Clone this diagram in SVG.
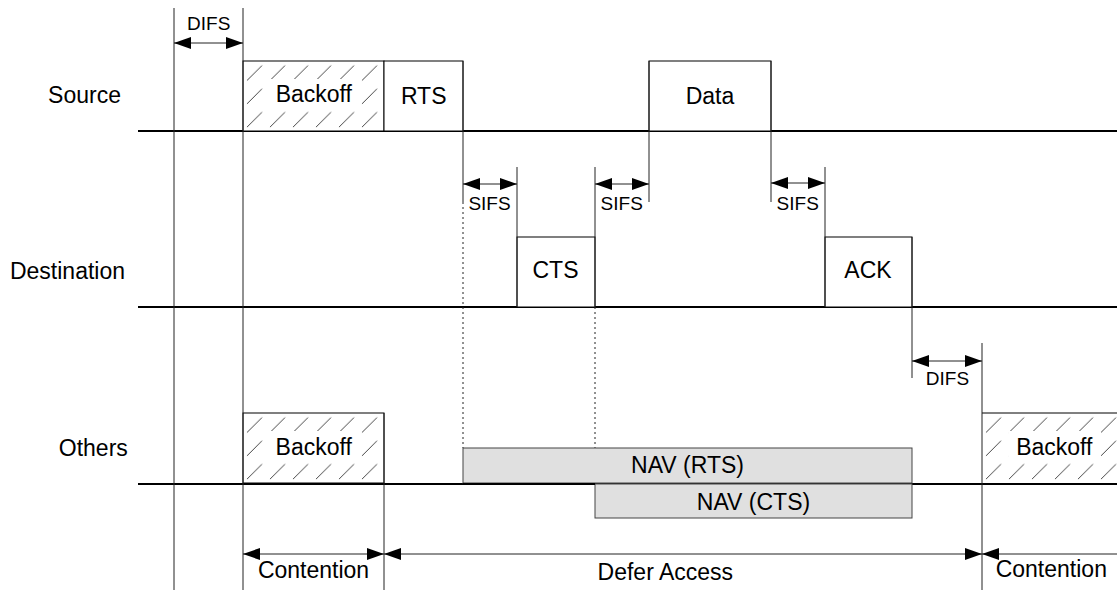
<svg xmlns="http://www.w3.org/2000/svg" width="1117" height="590" viewBox="0 0 1117 590">
  <style>
    text { font-family: "Liberation Sans", Arial, sans-serif; fill: #000; text-anchor: middle; }
    .big { font-size: 23px; }
    .small { font-size: 19px; }
    .axis { stroke: #000; stroke-width: 2; fill: none; }
    .edge { stroke: #222; stroke-width: 1; fill: none; }
    .dot { stroke: #222; stroke-width: 1; stroke-dasharray: 2 3; fill: none; }
    .frame { fill: #fff; stroke: #000; stroke-width: 1; }
    .nav { fill: #e0e0e0; stroke: #444; stroke-width: 1; }
    .span { stroke: #222; stroke-width: 1; fill: none; marker-start: url(#head); marker-end: url(#head); }
  </style>
  <defs>
    <marker id="head" markerUnits="userSpaceOnUse" markerWidth="17" markerHeight="12" refX="17" refY="6" orient="auto-start-reverse">
      <path d="M0,0 L17,6 L0,12 z" fill="#000"/>
    </marker>
    <pattern id="hatch" patternUnits="userSpaceOnUse" width="23" height="23.33">
      <line x1="4" y1="19.5" x2="19" y2="4.5" stroke="#333" stroke-width="0.9"/>
    </pattern>
  </defs>

  <!-- station time axes -->
  <g id="axes">
    <line class="axis" x1="138" y1="131" x2="1117" y2="131"/>
    <line class="axis" x1="138" y1="307" x2="1117" y2="307"/>
    <line class="axis" x1="138" y1="484" x2="1117" y2="484"/>
  </g>

  <!-- row labels -->
  <g id="labels">
    <text class="big" x="84.5" y="103">Source</text>
    <text class="big" x="67.5" y="279">Destination</text>
    <text class="big" x="93.3" y="456">Others</text>
  </g>

  <!-- frames -->
  <g id="source-backoff">
    <g transform="translate(243,61)">
      <rect width="141" height="70" fill="#fff"/>
      <rect width="141" height="70" fill="url(#hatch)"/>
      <rect x="25" y="18" width="92" height="31" fill="#fff"/>
    </g>
    <rect x="243" y="61" width="141" height="70" fill="none" stroke="#000"/>
    <text class="big" x="313.8" y="102">Backoff</text>
  </g>
  <g id="rts">
    <rect class="frame" x="384" y="61" width="79" height="70"/>
    <text class="big" x="423.7" y="104">RTS</text>
  </g>
  <g id="data">
    <rect class="frame" x="649" y="61" width="122" height="70"/>
    <text class="big" x="710" y="104">Data</text>
  </g>
  <g id="cts">
    <rect class="frame" x="517" y="237" width="78" height="70"/>
    <text class="big" x="555.5" y="278">CTS</text>
  </g>
  <g id="ack">
    <rect class="frame" x="825" y="237" width="87" height="70"/>
    <text class="big" x="868" y="278">ACK</text>
  </g>
  <g id="others-backoff">
    <g transform="translate(243,413)">
      <rect width="141" height="70" fill="#fff"/>
      <rect width="141" height="70" fill="url(#hatch)"/>
      <rect x="25" y="18" width="92" height="31" fill="#fff"/>
    </g>
    <rect x="243" y="413" width="141" height="70" fill="none" stroke="#000"/>
    <text class="big" x="313.7" y="455">Backoff</text>
  </g>
  <g id="others-backoff-2">
    <g transform="translate(982,413)">
      <rect width="140" height="70" fill="#fff"/>
      <rect width="140" height="70" fill="url(#hatch)"/>
      <rect x="27" y="18" width="92" height="31" fill="#fff"/>
    </g>
    <line x1="982" y1="413" x2="1117" y2="413" stroke="#000"/>
    <text class="big" x="1054.3" y="455">Backoff</text>
  </g>

  <!-- timing edges and interval spans -->
  <g id="connectors">
    <line class="edge" x1="174" y1="8" x2="174" y2="590"/>
    <line class="edge" x1="243" y1="8" x2="243" y2="590"/>
    <line class="edge" x1="384" y1="413" x2="384" y2="590"/>
    <line class="edge" x1="463" y1="61" x2="463" y2="202"/>
    <line class="dot" x1="463" y1="202" x2="463" y2="448"/>
    <line class="edge" x1="517" y1="167" x2="517" y2="307"/>
    <line class="edge" x1="595" y1="167" x2="595" y2="307"/>
    <line class="dot" x1="595" y1="307" x2="595" y2="448"/>
    <line class="edge" x1="649" y1="61" x2="649" y2="202"/>
    <line class="edge" x1="771" y1="61" x2="771" y2="202"/>
    <line class="edge" x1="825" y1="167" x2="825" y2="307"/>
    <line class="edge" x1="912" y1="237" x2="912" y2="378"/>
    <line class="edge" x1="982" y1="343" x2="982" y2="590"/>

    <line class="span" x1="174" y1="43" x2="243" y2="43"/>
    <line class="span" x1="463" y1="184" x2="517" y2="184"/>
    <line class="span" x1="595" y1="184" x2="649" y2="184"/>
    <line class="span" x1="771" y1="183" x2="825" y2="183"/>
    <line class="span" x1="912" y1="361" x2="982" y2="361"/>
    <line class="span" x1="243" y1="554" x2="384" y2="554"/>
    <line class="span" x1="384" y1="554" x2="982" y2="554"/>
    <line class="edge" x1="982" y1="554" x2="1117" y2="554" marker-start="url(#head)"/>
  </g>

  <!-- network allocation vectors -->
  <g id="nav-rts">
    <rect class="nav" x="463" y="448" width="449" height="35"/>
    <text class="big" x="687.5" y="473">NAV (RTS)</text>
  </g>
  <g id="nav-cts">
    <rect class="nav" x="595" y="484" width="317" height="34"/>
    <text class="big" x="753.5" y="510">NAV (CTS)</text>
  </g>
  <line class="axis" x1="463" y1="484" x2="595" y2="484"/>

  <!-- interval labels -->
  <g id="interval-labels">
    <text class="small" x="208.7" y="30">DIFS</text>
    <text class="small" x="489.5" y="210">SIFS</text>
    <text class="small" x="621.7" y="210">SIFS</text>
    <text class="small" x="797.7" y="210">SIFS</text>
    <text class="small" x="947.5" y="385">DIFS</text>
    <text class="big" x="313.5" y="578">Contention</text>
    <text class="big" x="665.3" y="580">Defer Access</text>
    <text class="big" x="1051.3" y="577">Contention</text>
  </g>
</svg>
